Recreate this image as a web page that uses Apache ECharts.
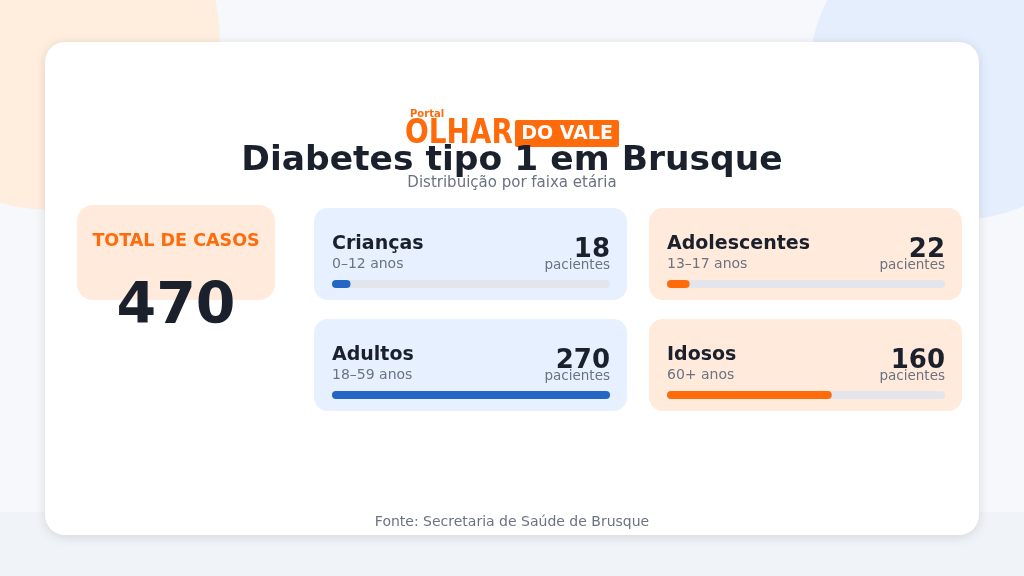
<!DOCTYPE html><html><head><meta charset="utf-8">
<script src="https://cdn.jsdelivr.net/npm/echarts@6/dist/echarts.min.js"></script>
<style>html,body{margin:0;padding:0;}#c{width:1024px;height:576px;}</style></head><body><div id="c"></div>
<script>
const categories=['Crianças','Adolescentes','Adultos','Idosos'];
const ranges=['0–12 anos','13–17 anos','18–59 anos','60+ anos'];
const values=[18,22,270,160];
const total=470;
const colors=['#2366c4','#ff6a0a','#2366c4','#ff6a0a'];
const cardBg=['#e6f0fe','#ffeadb','#e6f0fe','#ffeadb'];
const F='DejaVu Sans';
const cards=[[314,208],[649,208],[314,319],[649,319]];
const W=313,H=92;
const g=[
 {type:'rect',shape:{x:0,y:0,width:1024,height:576},style:{fill:'#f6f8fc'},z:-10},
 {type:'rect',shape:{x:0,y:512,width:1024,height:64},style:{fill:'#f0f3f8'},z:-10},
 {type:'circle',shape:{cx:50,cy:40,r:170},style:{fill:'#ffeedd'},z:-9},
 {type:'circle',shape:{cx:960,cy:70,r:150},style:{fill:'#e4eefd'},z:-9},
 {type:'rect',shape:{x:45,y:42,width:934,height:493,r:20},style:{fill:'#fff',shadowBlur:12,shadowColor:'rgba(0,0,0,0.12)',shadowOffsetY:2},z:-8},
 {type:'text',x:410,y:114,style:{text:'Portal',font:'bold 10px '+F,fill:'#ff6a0a',verticalAlign:'middle'}},
 {type:'text',x:405,y:134,scaleX:0.82,style:{text:'OLHAR',font:'bold 34px '+F,fill:'#ff6a0a',verticalAlign:'middle'}},
 {type:'rect',shape:{x:515,y:120,width:104,height:27,r:2},style:{fill:'#ff6a0a'}},
 {type:'text',x:567,y:134,style:{text:'DO VALE',font:'bold 19px '+F,fill:'#fff',align:'center',verticalAlign:'middle'}},
 {type:'text',x:512,y:161,style:{text:'Diabetes tipo 1 em Brusque',font:'bold 34.5px '+F,fill:'#1a202c',align:'center',verticalAlign:'middle'}},
 {type:'text',x:512,y:183,style:{text:'Distribuição por faixa etária',font:'15px '+F,fill:'#6b7280',align:'center',verticalAlign:'middle'}},
 {type:'rect',shape:{x:77,y:205,width:198,height:95,r:16},style:{fill:'#ffeadb'}},
 {type:'text',x:176,y:241,style:{text:'TOTAL DE CASOS',font:'bold 17.5px '+F,fill:'#ff6a0a',align:'center',verticalAlign:'middle'}},
 {type:'text',x:176,y:308,style:{text:String(total),font:'bold 57px '+F,fill:'#1a202c',align:'center',verticalAlign:'middle'}},
 {type:'text',x:512,y:522,style:{text:'Fonte: Secretaria de Saúde de Brusque',font:'14px '+F,fill:'#6b7280',align:'center',verticalAlign:'middle'}}
];
cards.forEach(([x,y],i)=>{
 g.push({type:'rect',shape:{x,y,width:W,height:H,r:14},style:{fill:cardBg[i]},z:-5});
 g.push({type:'text',x:x+18,y:y+36,style:{text:categories[i],font:'bold 19px '+F,fill:'#1a202c',verticalAlign:'middle'}});
 g.push({type:'text',x:x+18,y:y+56,style:{text:ranges[i],font:'14px '+F,fill:'#6b7280',verticalAlign:'middle'}});
 g.push({type:'text',x:x+296,y:y+42,style:{text:String(values[i]),font:'bold 26px '+F,fill:'#1a202c',align:'right',verticalAlign:'middle'}});
 g.push({type:'text',x:x+296,y:y+57,style:{text:'pacientes',font:'13.5px '+F,fill:'#6b7280',align:'right',verticalAlign:'middle'}});
});
const grid=cards.map(([x,y])=>({left:x+18,top:y+72,width:278,height:8}));
const xAxis=cards.map((c,i)=>({type:'value',gridIndex:i,min:0,max:270,show:false}));
const yAxis=cards.map((c,i)=>({type:'category',gridIndex:i,data:[categories[i]],show:false}));
const series=cards.map((c,i)=>({type:'bar',xAxisIndex:i,yAxisIndex:i,data:[values[i]],barWidth:8,showBackground:true,backgroundStyle:{color:'#e2e6ec',borderRadius:4},itemStyle:{color:colors[i],borderRadius:4},silent:true,animation:false}));
const ch=echarts.init(document.getElementById('c'));
ch.setOption({animation:false,graphic:g,grid,xAxis,yAxis,series});
</script></body></html>
